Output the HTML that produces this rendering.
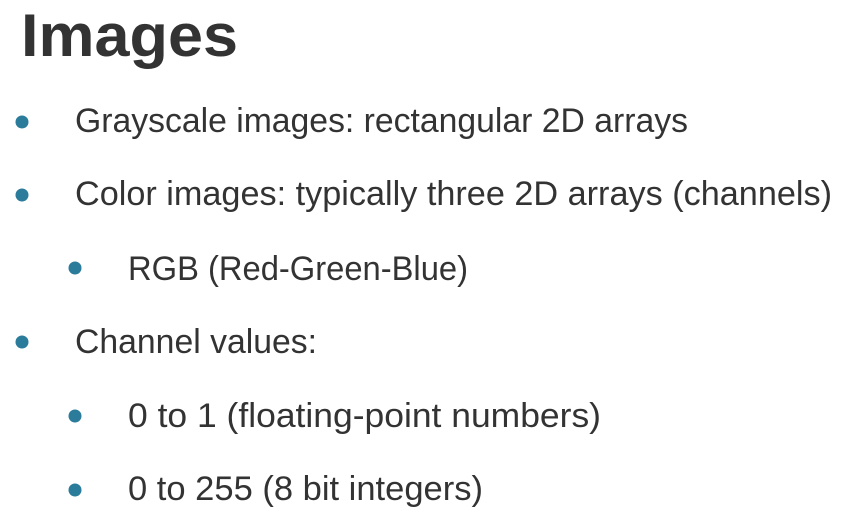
<!DOCTYPE html>
<html><head><meta charset="utf-8"><style>
html,body{margin:0;padding:0;background:#fff;width:846px;height:516px;overflow:hidden}
svg{display:block}
text{font-family:"Liberation Sans",sans-serif;fill:#333}
</style></head><body>
<svg width="846" height="516" viewBox="0 0 846 516">
<text x="21" y="56" font-size="60" font-weight="bold" textLength="217" lengthAdjust="spacingAndGlyphs">Images</text>
<g fill="#2b7b9b">
<circle cx="22" cy="122" r="6.5"/>
<circle cx="22" cy="195" r="6.5"/>
<circle cx="75" cy="268" r="6.5"/>
<circle cx="22" cy="342" r="6.5"/>
<circle cx="75" cy="416" r="6.5"/>
<circle cx="75" cy="490" r="6.5"/>
</g>
<g font-size="34">
<text x="75" y="132" textLength="613" lengthAdjust="spacingAndGlyphs">Grayscale images: rectangular 2D arrays</text>
<text x="75" y="205" textLength="757" lengthAdjust="spacingAndGlyphs">Color images: typically three 2D arrays (channels)</text>
<text x="128" y="280" textLength="340" lengthAdjust="spacingAndGlyphs">RGB (Red-Green-Blue)</text>
<text x="75" y="353" textLength="242" lengthAdjust="spacingAndGlyphs">Channel values:</text>
<text x="128" y="427" textLength="473" lengthAdjust="spacingAndGlyphs">0 to 1 (floating-point numbers)</text>
<text x="128" y="500" textLength="355" lengthAdjust="spacingAndGlyphs">0 to 255 (8 bit integers)</text>
</g>
</svg>
</body></html>
